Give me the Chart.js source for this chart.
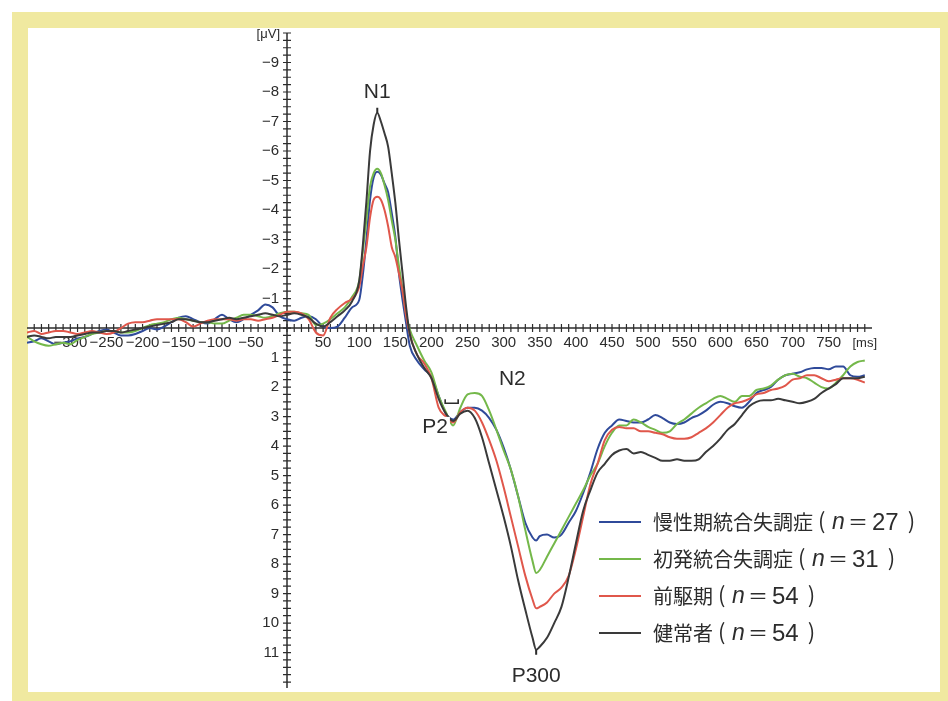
<!DOCTYPE html>
<html lang="ja">
<head>
<meta charset="utf-8">
<title>ERP 波形</title>
<script src="https://cdn.jsdelivr.net/npm/chart.js@4.4.1/dist/chart.umd.min.js"></script>
<style>
  html, body { margin: 0; padding: 0; background: #fff; }
  #wrap { position: relative; width: 948px; height: 701px; overflow: hidden; }
  #frame { position: absolute; left: 12px; top: 12px; width: 960px; height: 720px; background: #f0e9a0; }
  #panel { position: absolute; left: 28px; top: 28px; width: 912px; height: 664px; background: #fff; }
  canvas { position: absolute; left: 0; top: 0; }
</style>
</head>
<body>
<div id="wrap">
  <div id="frame"></div>
  <div id="panel"></div>
  <canvas id="erp" width="948" height="701"></canvas>
</div>
<script>
// Sampling times in ms (denser around N1 and P300)
const TIMES = [
  -360,-350,-340,-330,-320,-310,-300,-290,-280,-270,
  -260,-250,-240,-230,-220,-210,-200,-190,-180,-170,
  -160,-150,-140,-130,-120,-110,-100,-90,-80,-70,
  -60,-50,-40,-30,-20,-10,0,10,20,30,
  40,50,60,70,80,90,
  100,105,110,115,120,125,130,135,140,145,150,155,160,165,170,
  180,190,200,210,220,230,240,250,260,270,280,290,300,310,320,330,
  340,345,350,
  360,370,380,390,400,410,420,430,440,450,
  460,470,480,490,500,510,520,530,540,550,
  560,570,580,590,600,610,620,630,640,650,
  660,670,680,690,700,710,720,730,740,750,
  760,770,780,790,800
];

// Grand-average amplitudes in µV (negative = upward)
const CHRONIC = [
  0.5,0.45,0.35,0.45,0.55,0.5,0.45,0.35,0.3,0.2,
  0.1,0.05,0.15,0.25,0.25,0.2,0.1,0.0,0.05,-0.05,
  -0.2,-0.35,-0.4,-0.3,-0.2,-0.15,-0.3,-0.45,-0.3,-0.2,
  -0.3,-0.45,-0.6,-0.8,-0.7,-0.4,-0.3,-0.25,-0.35,-0.4,
  -0.3,-0.05,0.0,-0.05,-0.35,-0.7,
  -0.95,-1.8,-3.0,-4.35,-5.1,-5.3,-5.2,-4.9,-4.6,-3.9,-3.1,-1.85,-0.95,-0.15,0.6,
  1.1,1.4,1.65,2.3,2.9,3.1,2.85,2.7,2.7,2.8,3.05,3.45,4.05,4.8,5.7,6.6,
  7.1,7.2,7.05,
  7.0,7.1,7.0,6.6,6.2,5.6,4.9,4.1,3.55,3.3,
  3.1,3.15,3.2,3.2,3.1,2.95,3.05,3.2,3.25,3.2,
  3.05,2.95,2.8,2.6,2.5,2.55,2.65,2.7,2.5,2.2,
  2.1,2.0,1.75,1.6,1.55,1.5,1.4,1.35,1.35,1.4,
  1.3,1.3,1.6,1.65,1.6
];
const FIRST_EPISODE = [
  0.3,0.45,0.55,0.6,0.55,0.5,0.55,0.4,0.3,0.2,
  0.15,0.1,0.1,0.15,0.15,0.1,0.0,-0.1,-0.15,-0.2,
  -0.3,-0.35,-0.3,-0.25,-0.2,-0.2,-0.15,-0.15,-0.25,-0.35,
  -0.45,-0.45,-0.4,-0.35,-0.4,-0.5,-0.55,-0.55,-0.5,-0.45,
  -0.1,-0.15,-0.3,-0.5,-0.7,-1.05,
  -1.6,-2.6,-3.7,-4.8,-5.25,-5.4,-5.25,-4.85,-4.35,-3.65,-3.0,-2.1,-1.3,-0.45,0.05,
  0.6,1.1,1.5,2.3,2.85,3.3,2.7,2.25,2.2,2.3,2.8,3.45,4.15,4.8,5.7,6.85,
  7.9,8.3,8.2,
  7.75,7.3,6.85,6.4,5.95,5.5,5.0,4.6,4.0,3.55,
  3.3,3.3,3.1,3.2,3.35,3.45,3.55,3.5,3.25,3.1,
  2.9,2.7,2.55,2.4,2.3,2.4,2.5,2.3,2.3,2.1,
  2.05,1.95,1.75,1.6,1.55,1.65,1.7,1.85,2.0,2.05,
  1.85,1.6,1.3,1.15,1.1
];
const PRODROMAL = [
  0.15,0.1,0.2,0.15,0.1,0.1,0.15,0.2,0.15,0.1,
  0.15,0.2,0.15,0.0,-0.15,-0.2,-0.2,-0.25,-0.3,-0.3,
  -0.3,-0.3,-0.2,-0.05,-0.15,-0.25,-0.3,-0.3,-0.3,-0.25,
  -0.3,-0.3,-0.25,-0.3,-0.35,-0.45,-0.55,-0.55,-0.5,-0.3,
  0.15,0.25,-0.35,-0.65,-0.85,-1.0,
  -1.4,-2.1,-2.75,-3.75,-4.35,-4.45,-4.35,-4.0,-3.45,-2.75,-2.4,-1.85,-1.25,-0.4,0.2,
  0.9,1.2,1.7,2.7,3.0,3.2,2.85,2.7,2.8,3.2,3.8,4.5,5.4,6.4,7.4,8.4,
  9.2,9.5,9.45,
  9.3,9.0,8.8,8.4,7.5,6.4,5.3,4.6,3.8,3.45,
  3.35,3.4,3.4,3.5,3.5,3.55,3.6,3.7,3.75,3.75,
  3.7,3.55,3.4,3.2,2.95,2.7,2.55,2.5,2.4,2.25,
  2.2,2.1,2.05,1.95,1.75,1.7,1.6,1.6,1.7,1.8,
  1.75,1.7,1.7,1.75,1.85
];
const HEALTHY = [
  0.3,0.25,0.3,0.35,0.3,0.3,0.3,0.25,0.2,0.15,
  0.15,0.1,0.1,0.15,0.1,0.05,0.0,-0.05,-0.1,-0.15,
  -0.2,-0.3,-0.3,-0.25,-0.2,-0.2,-0.25,-0.3,-0.35,-0.3,
  -0.35,-0.4,-0.45,-0.5,-0.45,-0.4,-0.45,-0.5,-0.45,-0.35,
  -0.15,-0.05,-0.2,-0.4,-0.6,-0.9,
  -1.6,-2.8,-4.3,-6.0,-6.9,-7.3,-7.0,-6.6,-6.15,-5.25,-4.25,-3.0,-1.85,-0.7,0.2,
  0.9,1.35,1.7,2.4,2.9,3.15,2.9,2.8,3.05,3.7,4.6,5.5,6.4,7.4,8.55,9.55,
  10.5,10.9,10.8,
  10.5,10.0,9.45,8.45,7.3,6.2,5.5,4.9,4.6,4.3,
  4.15,4.1,4.25,4.2,4.3,4.4,4.5,4.5,4.45,4.5,
  4.5,4.45,4.2,4.0,3.75,3.45,3.25,2.95,2.65,2.5,
  2.45,2.45,2.4,2.45,2.5,2.55,2.5,2.4,2.2,2.05,
  1.9,1.7,1.7,1.7,1.65
];

// Groups shown in the legend (top to bottom) and their sample sizes
const GROUP_NAMES = ['慢性期統合失調症', '初発統合失調症', '前駆期', '健常者'];
const GROUP_N = [27, 31, 54, 54];
const GROUP_COLORS = ['#2f4a9a', '#74b84a', '#e0574b', '#3a3a3a'];
const GROUP_VALUES = [CHRONIC, FIRST_EPISODE, PRODROMAL, HEALTHY];

// Axis tick labels
const X_LABELS = [-300,-250,-200,-150,-100,-50,50,100,150,200,250,300,350,400,450,500,550,600,650,700,750];
const Y_LABELS = [-9,-8,-7,-6,-5,-4,-3,-2,-1,1,2,3,4,5,6,7,8,9,10,11];
const X_UNIT = '[ms]';
const Y_UNIT = '[\u03bcV]';

// Component names and where they sit (ms, µV)
const COMPONENTS = [
  { text: 'N1',   t: 125, v: -8.0 },
  { text: 'N2',   t: 312, v: 1.75 },
  { text: 'P2',   t: 205, v: 3.35, backed: true },
  { text: 'P300', t: 345, v: 11.8 }
];

const INK = '#2c2c2c';
const LATIN = '"Liberation Sans", Arial, Helvetica, sans-serif';
const CJK = '"Noto Sans CJK JP", "Noto Sans CJK SC", sans-serif';
const minus = s => String(s).replace('-', '\u2212');

const erpDecor = {
  id: 'erpDecor',
  beforeDatasetsDraw(chart) {
    const { ctx, scales: { x, y } } = chart;
    const x0 = x.getPixelForValue(0);
    const y0 = y.getPixelForValue(0);
    ctx.save();
    ctx.strokeStyle = INK;
    ctx.lineWidth = 1.5;
    ctx.beginPath();
    ctx.moveTo(x.left, y0); ctx.lineTo(x.right, y0);
    ctx.moveTo(x0, y.top); ctx.lineTo(x0, y.bottom);
    ctx.stroke();

    // crossing minor ticks: 10 ms and 0.25 µV
    ctx.lineWidth = 1.2;
    ctx.beginPath();
    for (let t = -350; t <= 800; t += 10) {
      const px = x.getPixelForValue(t);
      ctx.moveTo(px, y0 - 4); ctx.lineTo(px, y0 + 4);
    }
    for (let q = -40; q <= 48; q++) {
      const py = y.getPixelForValue(q / 4);
      ctx.moveTo(x0 - 4, py); ctx.lineTo(x0 + 4, py);
    }
    ctx.stroke();

    ctx.fillStyle = INK;
    ctx.textBaseline = 'middle';
    ctx.textAlign = 'center';
    ctx.font = '15px ' + LATIN;
    X_LABELS.forEach(t => ctx.fillText(minus(t), x.getPixelForValue(t), y0 + 15));
    ctx.font = '13px ' + LATIN;
    ctx.fillText(X_UNIT, x.getPixelForValue(800), y0 + 15);

    ctx.textAlign = 'right';
    ctx.font = '15px ' + LATIN;
    Y_LABELS.forEach(v => ctx.fillText(minus(v), x0 - 8, y.getPixelForValue(v)));
    ctx.font = '13px ' + LATIN;
    ctx.fillText(Y_UNIT, x0 - 7, y.getPixelForValue(-10) + 1);
    ctx.restore();
  },
  afterDatasetsDraw(chart) {
    const { ctx, scales: { x, y } } = chart;
    ctx.save();
    ctx.fillStyle = INK;
    ctx.strokeStyle = INK;
    ctx.textAlign = 'center';
    ctx.textBaseline = 'middle';
    ctx.font = '21px ' + LATIN;
    COMPONENTS.forEach(c => {
      const px = x.getPixelForValue(c.t), py = y.getPixelForValue(c.v);
      if (c.backed) {
        const w = ctx.measureText(c.text).width;
        ctx.fillStyle = '#fff';
        ctx.fillRect(px - w / 2 - 2, py - 10, w + 4, 20);
        ctx.fillStyle = INK;
      }
      ctx.fillText(c.text, px, py);
    });

    // peak markers on the healthy-control waveform
    const iN1 = TIMES.indexOf(125), iP3 = TIMES.indexOf(345);
    ctx.lineWidth = 2;
    ctx.beginPath();
    let px = x.getPixelForValue(125), py = y.getPixelForValue(HEALTHY[iN1]);
    ctx.moveTo(px, py); ctx.lineTo(px, py - 5);
    px = x.getPixelForValue(345); py = y.getPixelForValue(HEALTHY[iP3]);
    ctx.moveTo(px, py); ctx.lineTo(px, py + 5);
    ctx.stroke();
    // P2 latency bracket
    const bl = x.getPixelForValue(219), br = x.getPixelForValue(237), by = y.getPixelForValue(2.55);
    ctx.lineWidth = 1.6;
    ctx.beginPath();
    ctx.moveTo(bl, by - 4); ctx.lineTo(bl, by); ctx.lineTo(br, by); ctx.lineTo(br, by - 4);
    ctx.stroke();

    // legend: line swatch, group name, then (n=…) with an italic n
    const lx = 599, ly = 522, gap = 37;
    GROUP_NAMES.forEach((name, i) => {
      const cy = ly + i * gap;
      ctx.strokeStyle = GROUP_COLORS[i];
      ctx.lineWidth = 2;
      ctx.beginPath(); ctx.moveTo(lx, cy); ctx.lineTo(lx + 42, cy); ctx.stroke();
      ctx.fillStyle = INK;
      ctx.textAlign = 'left';
      const start = lx + 54;
      ctx.font = '20px ' + CJK;
      ctx.fillText(name, start, cy);
      const e = start + ctx.measureText(name).width;
      ctx.font = '22px ' + CJK;
      ctx.fillText('(', e + 5, cy - 1);
      ctx.font = 'italic 23px ' + LATIN;
      ctx.fillText('n', e + 19, cy + 1);
      ctx.font = '20px ' + CJK;
      ctx.fillText('\uff1d', e + 35, cy);
      ctx.font = '24px ' + LATIN;
      const digits = String(GROUP_N[i]);
      ctx.fillText(digits, e + 59, cy + 1);
      const dEnd = e + 59 + ctx.measureText(digits).width;
      ctx.font = '22px ' + CJK;
      ctx.fillText(')', dEnd + 9, cy - 1);
    });
    ctx.restore();
  }
};

// draw order: healthy first so the patient groups sit on top
const order = [3, 2, 1, 0];
const datasets = order.map(i => ({
  label: GROUP_NAMES[i],
  data: TIMES.map((t, k) => ({ x: t, y: GROUP_VALUES[i][k] })),
  borderColor: GROUP_COLORS[i],
  borderWidth: 2,
  pointRadius: 0,
  cubicInterpolationMode: 'monotone',
  fill: false
}));

new Chart(document.getElementById('erp'), {
  type: 'line',
  data: { datasets },
  options: {
    responsive: false,
    animation: false,
    devicePixelRatio: 1,
    layout: { padding: { left: 27, right: 76, top: 33, bottom: 13 } },
    scales: {
      x: { type: 'linear', min: -360, max: 810, display: false },
      y: { type: 'linear', min: -10, max: 12.2, reverse: true, display: false }
    },
    plugins: { legend: { display: false }, tooltip: { enabled: false } }
  },
  plugins: [erpDecor]
});
</script>
</body>
</html>
